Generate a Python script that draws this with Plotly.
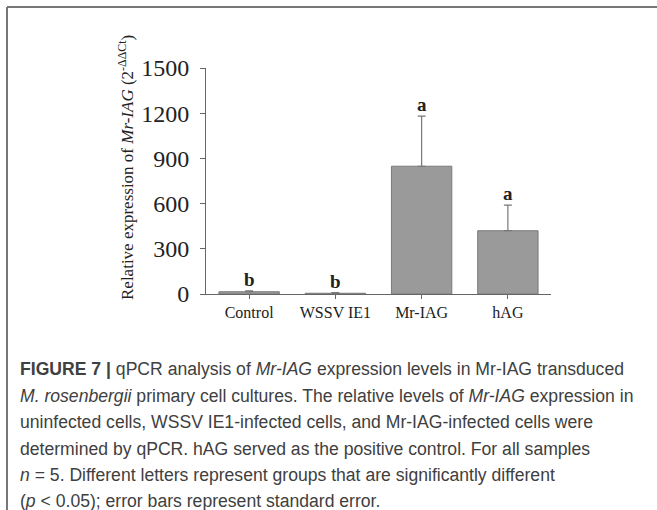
import plotly.graph_objects as go

categories = ["Control", "WSSV IE1", "Mr-IAG", "hAG"]
means = [15, 5, 848, 420]
sem = [6, 4, 332, 170]
letters = ["b", "b", "a", "a"]
yticks = [0, 300, 600, 900, 1200, 1500]

caption_lines = [
    "<b>FIGURE 7 |</b> qPCR analysis of <i>Mr-IAG</i> expression levels in Mr-IAG transduced",
    "<i>M. rosenbergii</i> primary cell cultures. The relative levels of <i>Mr-IAG</i> expression in",
    "uninfected cells, WSSV IE1-infected cells, and Mr-IAG-infected cells were",
    "determined by qPCR. hAG served as the positive control. For all samples",
    "<i>n</i> = 5. Different letters represent groups that are significantly different",
    "(<i>p</i> < 0.05); error bars represent standard error.",
]

W, H = 657, 510
L, R, T, B = 206, 551, 68, 294

def px(x):
    return (x - L) / (R - L)

def py(y):
    return (B - y) / (B - T)

serif = "Liberation Serif, Times New Roman, serif"

fig = go.Figure()
fig.add_trace(go.Bar(
    x=categories, y=means, width=0.7,
    marker=dict(color="#9a9a9a", line=dict(color="#7a7a7a", width=1)),
    error_y=dict(type="data", array=sem, arrayminus=[0]*len(sem), symmetric=False,
                 color="#777777", thickness=1.2, width=4),
))

for c, m, s, l in zip(categories, means, sem, letters):
    fig.add_annotation(x=c, y=m + s, text=f"<b>{l}</b>", showarrow=False,
                       yanchor="bottom", yshift=-1,
                       font=dict(family=serif, size=19, color="#222222"))

fig.add_annotation(xref="paper", yref="paper", x=px(126), y=py(168),
                   text="Relative expression of <i>Mr-IAG</i> (2<sup>-ΔΔCt</sup>)",
                   textangle=-90, showarrow=False, xanchor="center", yanchor="middle",
                   font=dict(family=serif, size=17, color="#222222"))

line_y = [369, 396, 422, 449, 475, 501]
for t, yy in zip(caption_lines, line_y):
    fig.add_annotation(xref="paper", yref="paper", x=px(18), y=py(yy), text=t,
                       showarrow=False, xanchor="left", yanchor="middle",
                       font=dict(family="Liberation Sans, Arial, sans-serif", size=17.6, color="#404040"))

fig.add_shape(type="line", xref="paper", yref="paper", x0=px(7), x1=px(657), y0=py(7), y1=py(7),
              line=dict(color="#777777", width=2))
fig.add_shape(type="line", xref="paper", yref="paper", x0=px(7), x1=px(7), y0=py(7), y1=py(512),
              line=dict(color="#777777", width=2))

fig.update_layout(
    width=W, height=H, autosize=False,
    margin=dict(l=L, r=W - R, t=T, b=H - B, pad=0),
    plot_bgcolor="white", paper_bgcolor="white",
    showlegend=False, bargap=0.3,
)
fig.update_xaxes(showline=True, linecolor="#666666", linewidth=1, ticks="outside", ticklen=4,
                 tickcolor="#666666", range=[-0.5, 3.5],
                 tickfont=dict(family=serif, size=16, color="#222222"), showgrid=False)
fig.update_yaxes(showline=True, linecolor="#666666", linewidth=1, ticks="outside", ticklen=5,
                 tickcolor="#666666", range=[0, 1500], tickvals=yticks,
                 tickfont=dict(family=serif, size=24, color="#222222"), showgrid=False,
                 zeroline=False, ticklabelstandoff=6)

fig.write_html("out.html", config={"displayModeBar": False},
               post_script="document.body.style.margin='0';document.body.style.overflow='hidden';")
